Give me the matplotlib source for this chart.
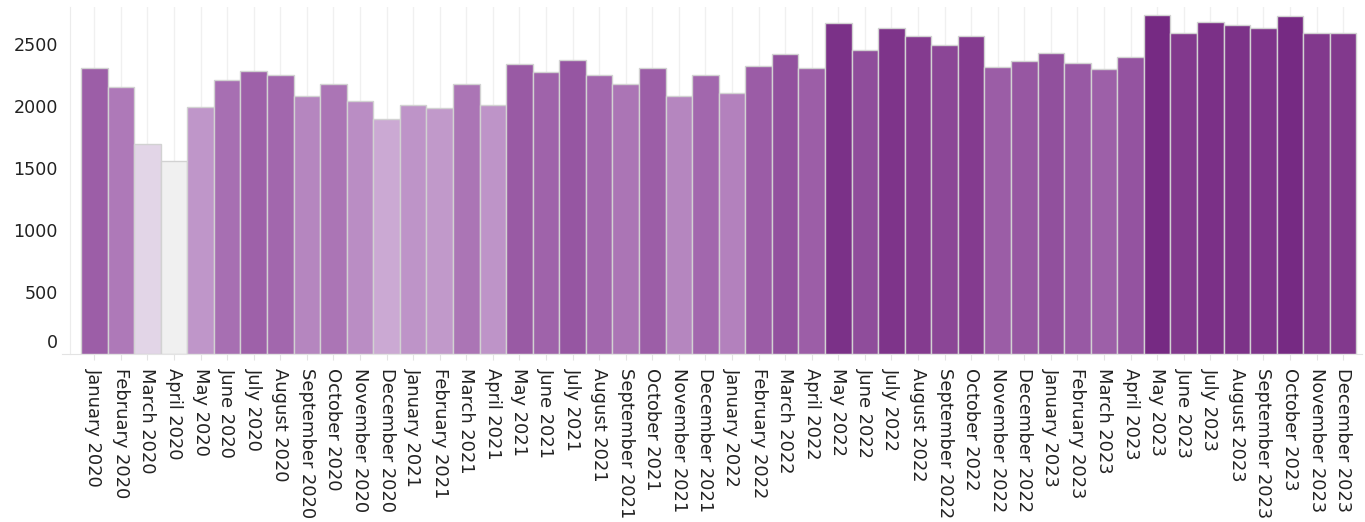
#!/usr/bin/env python3
"""Monthly totals, Jan 2020 - Dec 2023, bars coloured by value (light grey -> purple)."""
import matplotlib
matplotlib.use("Agg")  # headless
import matplotlib.pyplot as plt
from matplotlib.colors import LinearSegmentedColormap, Normalize

MONTHS = ["January", "February", "March", "April", "May", "June", "July",
          "August", "September", "October", "November", "December"]
YEARS = [2020, 2021, 2022, 2023]
LABELS = [f"{m} {y}" for y in YEARS for m in MONTHS]

VALUES = [
    2304, 2151, 1694, 1556, 1994, 2207, 2285, 2252, 2083, 2175, 2040, 1895,  # 2020
    2006, 1981, 2175, 2006, 2341, 2274, 2374, 2252, 2175, 2306, 2081, 2252,  # 2021
    2105, 2320, 2419, 2306, 2667, 2452, 2634, 2567, 2497, 2567, 2317, 2363,  # 2022
    2430, 2352, 2296, 2398, 2734, 2589, 2677, 2656, 2634, 2726, 2589, 2589,  # 2023
]
YTICKS = [0, 500, 1000, 1500, 2000, 2500]

# sequential scale: grey at the minimum, deep purple at the maximum
CMAP = LinearSegmentedColormap.from_list("greypurple", [
    (0.00, "#f0f0f0"), (0.12, "#e1d4e6"), (0.29, "#caa8d3"), (0.45, "#b585bf"),
    (0.63, "#9d5fa8"), (0.76, "#8f4d9b"), (0.86, "#843b8f"), (1.00, "#762a83")])

TEXT = "#222222"
LINE = "#e3e3e3"
FS_X = 12.9
FS_Y = 12.6


def main():
    fig = plt.figure(figsize=(13.65, 5.22), dpi=100)
    ax = fig.add_axes([70 / 1365, 1 - 354 / 522, 1292 / 1365, 347 / 522])

    xs = list(range(len(VALUES)))
    norm = Normalize(vmin=min(VALUES), vmax=max(VALUES))
    ax.bar(xs, VALUES, width=1.0, color=[CMAP(norm(v)) for v in VALUES],
           edgecolor="#d2d2d2", linewidth=1.0, zorder=2)

    ax.set_xlim(-0.914, 47.71)
    ax.set_ylim(0, 2800)

    # vertical grid at each bar, very faint
    ax.set_xticks(xs)
    ax.set_xticklabels(LABELS, rotation=270, ha="center", va="top",
                       fontsize=FS_X, color=TEXT)
    ax.grid(True, axis="x", color="#f0f0f0", linewidth=1.0, zorder=0)
    ax.set_axisbelow(True)
    ax.tick_params(axis="x", length=4.3, width=0.8, color=LINE, pad=5.5)

    # y labels, the zero label nudged up off the baseline
    ax.set_yticks(YTICKS)
    ax.set_yticklabels([""] + [str(t) for t in YTICKS[1:]], fontsize=FS_Y, color=TEXT)
    ax.tick_params(axis="y", length=0, pad=8.6)
    ax.annotate("0", xy=(0, 0), xycoords=("axes fraction", "data"),
                xytext=(-8.6, 8), textcoords="offset points",
                ha="right", va="center", fontsize=FS_Y, color=TEXT)

    for side in ("top", "right"):
        ax.spines[side].set_visible(False)
    ax.spines["left"].set_color("#ececec")
    ax.spines["left"].set_linewidth(0.8)
    ax.spines["bottom"].set_color(LINE)
    ax.spines["bottom"].set_linewidth(0.8)
    ax.spines["bottom"].set_bounds(-1.2, 47.71)

    fig.savefig("out.png", dpi=100, facecolor="white")
    plt.close(fig)


if __name__ == "__main__":
    main()
